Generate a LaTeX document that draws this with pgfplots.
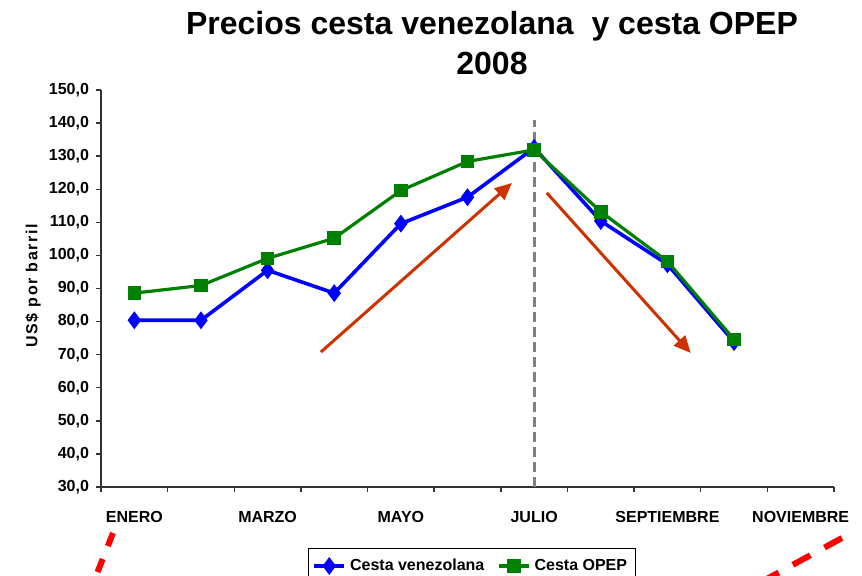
\documentclass[border=0pt]{standalone}
\usepackage{pgfplots}
\pgfplotsset{compat=1.18}
\usepackage{fontspec}
\setmainfont{Liberation Sans}
\usetikzlibrary{arrows.meta}
\definecolor{venez}{RGB}{0,0,255}
\definecolor{opep}{RGB}{0,128,0}
\definecolor{flecha}{RGB}{204,51,0}
\definecolor{ejes}{RGB}{50,50,50}

\begin{document}
\begin{tikzpicture}[x=0.5pt,y=0.5pt]
\clip (0,0) rectangle (862,576);
\fill[white] (0,0) rectangle (862,576);
% titulo
\node[font=\bfseries\fontsize{16}{20}\selectfont, align=center] at (492,533)
  {Precios cesta venezolana\ \ y cesta OPEP\\2008};
% etiqueta eje y
\node[rotate=90, font=\bfseries\fontsize{8}{9.6}\selectfont\addfontfeature{LetterSpace=10}]
  at (33,290) {US\$ por barril};

\begin{axis}[
  at={(50.5pt,44.5pt)}, anchor=south west,
  scale only axis, width=366.5pt, height=198.5pt,
  xmin=-0.5, xmax=10.5, ymin=30, ymax=150,
  axis x line*=bottom, axis y line*=left,
  axis line style={ejes, line width=0.7pt},
  every tick/.style={ejes, line width=0.7pt},
  tick align=outside,
  major tick length=2.5pt, minor tick length=2.5pt,
  xtick={0,...,10},
  xticklabels={ENERO,,MARZO,,MAYO,,JULIO,,SEPTIEMBRE,,NOVIEMBRE},
  major x tick style={draw=none},
  minor xtick={-0.5,0.5,...,10.5},
  ytick={30,40,...,150},
  tick label style={font=\bfseries\fontsize{8}{9.6}\selectfont},
  xticklabel style={yshift=-6pt},
  yticklabel style={/pgf/number format/.cd, fixed, fixed zerofill, precision=1, use comma, assume math mode=true},
  legend style={at={(axis description cs:0.2824,-0.1537)}, anchor=north west,
    draw=black, line width=0.5pt, inner ysep=3pt, inner xsep=2pt,
    font=\bfseries\fontsize{8}{9.6}\selectfont,
    nodes={text height=6pt, text depth=1.5pt},
    /tikz/every even column/.append style={column sep=4.5pt}},
  legend columns=2,
  legend image code/.code={%
    \draw[mark repeat=2,mark phase=2,#1] plot coordinates {(0pt,0pt) (7.5pt,0pt) (15pt,0pt)};},
]
\addplot[venez, line width=1.8pt, mark=diamond*, mark size=3pt, mark options={solid}] coordinates {
  (0,80.4) (1,80.4) (2,95.5) (3,88.6) (4,109.6)
  (5,117.6) (6,132.5) (7,110.4) (8,97.3) (9,73.8)
};
\addlegendentry{Cesta venezolana}
\addplot[opep, line width=1.6pt, mark=square*, mark size=2.6pt, mark options={solid}] coordinates {
  (0,88.6) (1,90.9) (2,99.1) (3,105.2) (4,119.6)
  (5,128.4) (6,131.9) (7,113.2) (8,98.2) (9,74.6)
};
\addlegendentry{Cesta OPEP}
\draw[gray, line width=1.5pt, dash pattern=on 5pt off 2.5pt] (axis cs:6,30) -- (axis cs:6,141);
\draw[flecha, line width=1.5pt, -{Triangle[length=8.5pt,width=7.5pt]}]
  (axis cs:2.80,70.8) -- (axis cs:5.667,121.9);
\draw[flecha, line width=1.5pt, -{Triangle[length=8.5pt,width=7.5pt]}]
  (axis cs:6.19,118.9) -- (axis cs:8.35,70.5);
\end{axis}
% trazos rojos discontinuos
\draw[red, line width=3pt, dash pattern=on 7pt off 7pt] (113,43) -- (94,-5);
\draw[red, line width=3pt, dash pattern=on 10pt off 8pt] (842,38) -- (765,-4);
\end{tikzpicture}
\end{document}
